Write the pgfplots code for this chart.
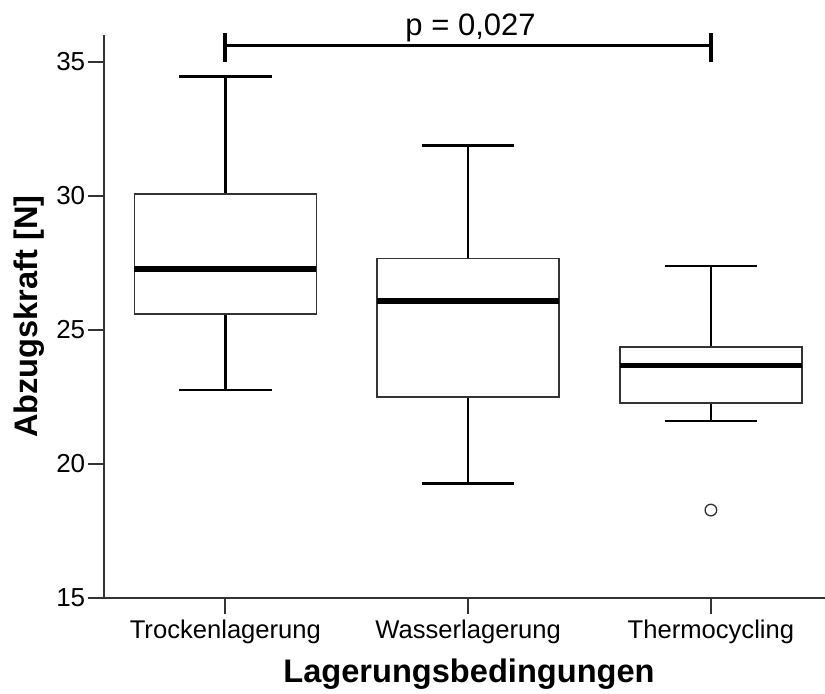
\documentclass[border=0pt]{standalone}
\usepackage{fontspec}
\setmainfont{Liberation Sans}
\usepackage{pgfplots}
\pgfplotsset{compat=1.18}
\usepgfplotslibrary{statistics}
\begin{document}
\begin{tikzpicture}
\useasboundingbox (-52pt,-47.5pt) rectangle (360.5pt,299pt);
\begin{axis}[
  at={(0pt,0pt)}, anchor=south west,
  scale only axis, width=360.5pt, height=281.5pt,
  xmin=-0.5, xmax=2.47, ymin=15, ymax=36,
  axis x line*=bottom, axis y line*=left,
  axis line style={black!80, line width=1pt},
  xtick={0,1,2},
  xticklabels={Trockenlagerung,Wasserlagerung,Thermocycling},
  ytick={15,20,25,30,35},
  tick align=outside, major tick length=8pt,
  tick style={black!80, line width=1pt},
  /pgf/number format/assume math mode=true,
  yticklabel style={font=\fontsize{13}{15}\selectfont, inner sep=1.2pt},
  xticklabel style={font=\fontsize{12.8}{15}\selectfont, inner sep=3pt},
  xlabel={Lagerungsbedingungen},
  ylabel={Abzugskraft [N]},
  label style={font=\bfseries\fontsize{16.3}{19}\selectfont},
  xlabel style={at={(axis description cs:0.5062,-0.1492)}, anchor=base},
  ylabel style={at={(axis description cs:-0.0929,0.5)}, anchor=base},
  clip=false,
  boxplot/draw direction=y,
  boxplot/box extend=0.75,
  boxplot/whisker extend=0.38,
  boxplot/every box/.style={draw=black!80, line width=0.75pt},
  boxplot/every whisker/.style={draw=black, line width=1.3pt},
  boxplot/every median/.style={draw=black, line width=2.8pt},
]
% Trockenlagerung
\addplot+[black, mark=none, boxplot prepared={draw position=0,
  lower whisker=22.76, lower quartile=25.59, median=27.28,
  upper quartile=30.07, upper whisker=34.45}] coordinates {};
% Wasserlagerung
\addplot+[black, mark=none, boxplot prepared={draw position=1,
  lower whisker=19.27, lower quartile=22.49, median=26.07,
  upper quartile=27.66, upper whisker=31.88}] coordinates {};
% Thermocycling, with one outlier
\addplot+[black, mark=o, mark size=2.9pt, mark options={black!80, line width=0.65pt},
  boxplot prepared={draw position=2,
  lower whisker=21.60, lower quartile=22.27, median=23.68,
  upper quartile=24.37, upper whisker=27.39}]
  coordinates {(2,18.28)};
% significance bracket
\addplot[black, line width=1.75pt] coordinates {(0,35.61) (2,35.61)};
\addplot[black, line width=2pt] coordinates {(0,35.0) (0,36.07)};
\addplot[black, line width=2pt] coordinates {(2,35.0) (2,36.07)};
\node[anchor=base, font=\fontsize{15.5}{18}\selectfont] at (axis cs:1.01,36) {p = 0,027};
\end{axis}
\end{tikzpicture}
\end{document}
